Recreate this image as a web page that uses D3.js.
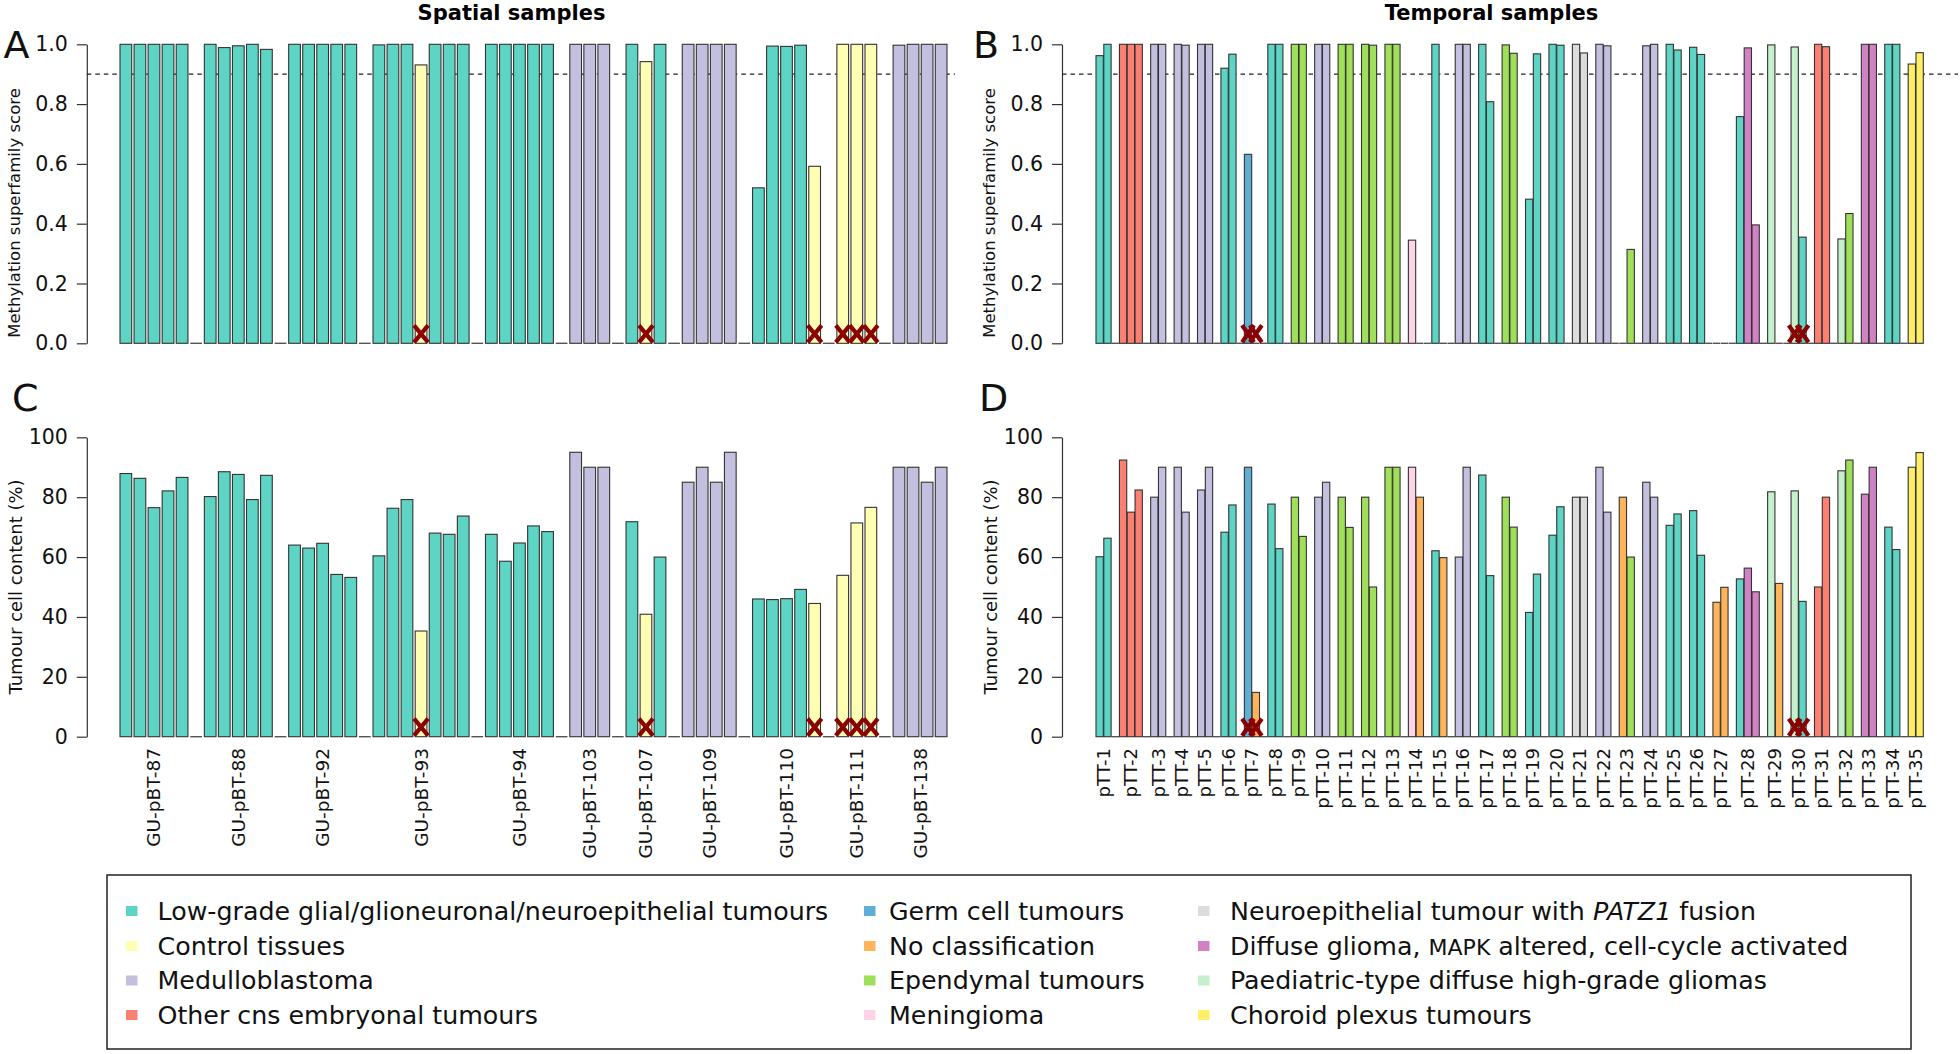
<!DOCTYPE html>
<html><head><meta charset="utf-8">
<script src="https://cdn.jsdelivr.net/npm/d3@7"></script>
<style>body{margin:0;background:#fff}svg{display:block}text{font-family:"DejaVu Sans",sans-serif}</style>
</head><body>
<svg id="chart" width="1960" height="1054"></svg>
<script>
// ---------- data ----------
const classNames = [
  "Low-grade glial/glioneuronal/neuroepithelial tumours",
  "Control tissues",
  "Medulloblastoma",
  "Other cns embryonal tumours",
  "Germ cell tumours",
  "No classification",
  "Ependymal tumours",
  "Meningioma",
  "Neuroepithelial tumour with PATZ1 fusion",
  "Diffuse glioma, MAPK altered, cell-cycle activated",
  "Paediatric-type diffuse high-grade gliomas",
  "Choroid plexus tumours"
];
const classColors = ["#5ed4c5","#ffffb3","#c3bfdf","#fb8072","#5eaed5","#ffb45a",
                     "#a0df5a","#fdd3e8","#dcdcdc","#d182c5","#c6efcb","#ffee66"];

const spatialPatients = ["GU-pBT-87","GU-pBT-88","GU-pBT-92","GU-pBT-93","GU-pBT-94","GU-pBT-103",
                         "GU-pBT-107","GU-pBT-109","GU-pBT-110","GU-pBT-111","GU-pBT-138"];
const spatialClass = [
  [0,0,0,0,0],[0,0,0,0,0],[0,0,0,0,0],[0,0,0,1,0,0,0],[0,0,0,0,0],[2,2,2],
  [0,1,0],[2,2,2,2],[0,0,0,0,1],[1,1,1],[2,2,2,2]];
const spatialScore = [
  [1,1,1,1,1],[1,0.989,0.995,1,0.983],[1,1,1,1,1],[0.998,1,1,0.931,1,1,1],[1,1,1,1,1],[1,1,1],
  [1,0.942,1],[1,1,1,1],[0.52,0.994,0.993,0.997,0.592],[1,1,1],[0.997,1,1,1]];
const spatialTumour = [
  [87.9,86.3,76.5,82.1,86.6],[80.2,88.5,87.6,79.2,87.3],[64.0,63.0,64.6,54.2,53.2],
  [60.4,76.3,79.2,35.3,68.0,67.6,73.7],[67.6,58.6,64.7,70.4,68.5],[95,90,90],
  [71.8,40.9,60],[85,90,85,95],[46,45.8,46.1,49.2,44.5],[53.9,71.4,76.6],[90,90,85,90]];
const spatialFlag = [
  [0,0,0,0,0],[0,0,0,0,0],[0,0,0,0,0],[0,0,0,1,0,0,0],[0,0,0,0,0],[0,0,0],
  [0,1,0],[0,0,0,0],[0,0,0,0,1],[1,1,1],[0,0,0,0]];

const temporalPatients = d3.range(1, 36).map(i => "pTT-" + i);
const temporalClass = [
  [0,0],[3,3,3],[2,2],[2,2],[2,2],[0,0],[4,5],[0,0],[6,6],[2,2],
  [6,6],[6,6],[6,6],[7,5],[0,5],[2,2],[0,0],[6,6],[0,0],[0,0],
  [8,8],[2,2],[5,6],[2,2],[0,0],[0,0],[5,5],[0,9,9],[10,5],[10,0],
  [3,3],[10,6],[9,9],[0,0],[11,11]];
const temporalScore = [
  [0.962,1],[1,1,1],[1,1],[1,0.997],[1,1],[0.92,0.967],[0.632,0],[1,1],[1,1],[1,1],
  [1,1],[1,0.997],[1,1],[0.345,0],[1,0],[1,1],[1,0.808],[0.998,0.97],[0.482,0.968],[1,0.997],
  [1,0.971],[1,0.995],[0,0.314],[0.995,1],[1,0.981],[0.99,0.966],[0,0],[0.758,0.988,0.396],[0.998,0],[0.991,0.355],
  [1,0.992],[0.349,0.434],[1,1],[1,1],[0.934,0.972]];
const temporalTumour = [
  [60.1,66.3],[92.4,75,82.4],[80,90],[90,75],[82.4,90],[68.3,77.4],[90,14.8],[77.7,62.8],[80,66.9],[80,85],
  [80,69.9],[80,50],[90,90],[90,80],[62.1,59.8],[60,90],[87.4,53.8],[80,70],[41.5,54.3],[67.3,76.8],
  [80,80],[90,75],[80,60],[85,80],[70.6,74.4],[75.5,60.6],[44.9,49.9],[52.7,56.3,48.4],[81.8,51.2],[82.1,45.2],
  [50,80],[88.8,92.4],[81,90],[70,62.5],[90,94.9]];
const temporalFlag = [
  [0,0],[0,0,0],[0,0],[0,0],[0,0],[0,0],[1,1],[0,0],[0,0],[0,0],
  [0,0],[0,0],[0,0],[0,0],[0,0],[0,0],[0,0],[0,0],[0,0],[0,0],
  [0,0],[0,0],[0,0],[0,0],[0,0],[0,0],[0,0],[0,0,0],[0,0],[1,1],
  [0,0],[0,0],[0,0],[0,0],[0,0]];

const scoreTicks = [0, 0.2, 0.4, 0.6, 0.8, 1.0];
const tumourTicks = [0, 20, 40, 60, 80, 100];
const scoreThreshold = 0.9;
const titles = ["Spatial samples", "Temporal samples"];
const panelLetters = ["A", "B", "C", "D"];
const yTitles = ["Methylation superfamily score", "Tumour cell content (%)"];

// ---------- helpers ----------
const svg = d3.select("#chart");
const FONT = "DejaVu Sans";

function buildSlots(patients, cls, score, tumour, flag) {
  const slots = [];
  patients.forEach((p, i) => {
    if (i > 0) slots.push({sep: true, id: "sep" + i});
    cls[i].forEach((c, j) => slots.push({
      sep: false, id: p + "_" + j, patient: i, cls: c,
      score: score[i][j], tumour: tumour[i][j], flag: flag[i][j]
    }));
  });
  return slots;
}

const spatialSlots = buildSlots(spatialPatients, spatialClass, spatialScore, spatialTumour, spatialFlag);
const temporalSlots = buildSlots(temporalPatients, temporalClass, temporalScore, temporalTumour, temporalFlag);

function drawPanel(cfg) {
  const x = d3.scaleBand().domain(cfg.slots.map(d => d.id))
    .range(cfg.xRange).paddingInner(cfg.pad).paddingOuter(0);
  const y = d3.scaleLinear().domain(cfg.domain).range(cfg.yRange);
  const g = svg.append("g");
  const bw = x.bandwidth();
  const y0 = y(0);

  // y axis
  const ax = g.append("g").attr("transform", `translate(${cfg.axisX},0)`)
    .call(d3.axisLeft(y).tickValues(cfg.ticks).tickFormat(cfg.fmt)
      .tickSize(10).tickSizeOuter(0).tickPadding(9));
  ax.select(".domain").attr("stroke", "#333").attr("stroke-width", 1.2);
  ax.selectAll(".tick line").attr("stroke", "#333").attr("stroke-width", 1.2);
  ax.selectAll("text").attr("font-size", 20.5).attr("font-family", FONT).attr("fill", "#111");

  // y title
  g.append("text")
    .attr("transform", `translate(${cfg.titleX},${cfg.titleY}) rotate(-90)`)
    .attr("text-anchor", "middle").attr("dy", "0.35em")
    .attr("font-size", cfg.titleSize).attr("fill", "#111")
    .text(cfg.yTitle);

  // threshold
  if (cfg.threshold != null) {
    g.append("line")
      .attr("x1", cfg.axisX).attr("x2", cfg.dashEnd)
      .attr("y1", y(cfg.threshold)).attr("y2", y(cfg.threshold))
      .attr("stroke", "#222").attr("stroke-width", 1.2).attr("stroke-dasharray", "4.5,4");
  }

  // zero-height bars (separators and zero values)
  g.selectAll("line.zero").data(cfg.slots.filter(d => d.sep || d[cfg.key] === 0))
    .join("line").attr("class", "zero")
    .attr("x1", d => x(d.id)).attr("x2", d => x(d.id) + bw)
    .attr("y1", y0).attr("y2", y0)
    .attr("stroke", "#555").attr("stroke-width", 1.4);

  // bars
  g.selectAll("rect.bar").data(cfg.slots.filter(d => !d.sep && d[cfg.key] > 0))
    .join("rect").attr("class", "bar")
    .attr("x", d => x(d.id)).attr("width", bw)
    .attr("y", d => y(d[cfg.key])).attr("height", d => y0 - y(d[cfg.key]))
    .attr("fill", d => classColors[d.cls])
    .attr("stroke", "#333").attr("stroke-width", 1.1);

  // flags
  const xw = cfg.xMarkW, xh = 17;
  g.selectAll("path.flag").data(cfg.slots.filter(d => !d.sep && d.flag))
    .join("path").attr("class", "flag")
    .attr("d", d => {
      const cx = x(d.id) + bw / 2, top = y0 - xh - 1, bot = y0 - 1;
      return `M${cx - xw/2},${top}L${cx + xw/2},${bot}M${cx + xw/2},${top}L${cx - xw/2},${bot}`;
    })
    .attr("stroke", "#8b0000").attr("stroke-width", 4.2).attr("fill", "none");

  return {x, y, g, bw};
}

function drawLabels(panel, slots, patients, labelY, size) {
  const centers = patients.map((p, i) => {
    const ids = slots.filter(d => !d.sep && d.patient === i).map(d => d.id);
    return (panel.x(ids[0]) + panel.x(ids[ids.length - 1]) + panel.bw) / 2;
  });
  panel.g.selectAll("text.xlab").data(patients).join("text").attr("class", "xlab")
    .attr("transform", (d, i) => `translate(${centers[i]},${labelY}) rotate(-90)`)
    .attr("text-anchor", "end").attr("dy", "0.35em")
    .attr("font-size", size).attr("fill", "#111")
    .text(d => d);
}

// ---------- panels ----------
const A = drawPanel({slots: spatialSlots, xRange: [120, 947], pad: 1/6, domain: [0, 1], yRange: [343.3, 44.3],
  axisX: 86.8, ticks: scoreTicks, fmt: d3.format(".1f"), key: "score", threshold: scoreThreshold, dashEnd: 955,
  xMarkW: 14, yTitle: yTitles[0], titleX: 14, titleY: 213, titleSize: 16.5});
const B = drawPanel({slots: temporalSlots, xRange: [1096, 1923.3], pad: 0.065, domain: [0, 1], yRange: [343.3, 44.3],
  axisX: 1062, ticks: scoreTicks, fmt: d3.format(".1f"), key: "score", threshold: scoreThreshold, dashEnd: 1958,
  xMarkW: 12, yTitle: yTitles[0], titleX: 989, titleY: 213, titleSize: 16.5});
const C = drawPanel({slots: spatialSlots, xRange: [120, 947], pad: 1/6, domain: [0, 100], yRange: [736.7, 437.3],
  axisX: 86.8, ticks: tumourTicks, fmt: d3.format("d"), key: "tumour", threshold: null,
  xMarkW: 14, yTitle: yTitles[1], titleX: 15.7, titleY: 587, titleSize: 18});
const D = drawPanel({slots: temporalSlots, xRange: [1096, 1923.3], pad: 0.065, domain: [0, 100], yRange: [736.7, 437.3],
  axisX: 1062, ticks: tumourTicks, fmt: d3.format("d"), key: "tumour", threshold: null,
  xMarkW: 12, yTitle: yTitles[1], titleX: 991, titleY: 587, titleSize: 18});

drawLabels(C, spatialSlots, spatialPatients, 748, 18.5);
drawLabels(D, temporalSlots, temporalPatients, 748, 18);

// titles and letters
svg.append("text").attr("x", 511.5).attr("y", 20).attr("text-anchor", "middle")
  .attr("font-size", 21).attr("font-weight", "bold").text(titles[0]);
svg.append("text").attr("x", 1491.5).attr("y", 20).attr("text-anchor", "middle")
  .attr("font-size", 21).attr("font-weight", "bold").text(titles[1]);
const letterPos = [[3.6, 58], [973, 58], [12, 411], [979, 411]];
panelLetters.forEach((l, i) => svg.append("text").attr("x", letterPos[i][0]).attr("y", letterPos[i][1])
  .attr("font-size", 38).attr("fill", "#111").text(l));

// ---------- legend ----------
const lg = svg.append("g");
lg.append("rect").attr("x", 107).attr("y", 875).attr("width", 1804).attr("height", 174)
  .attr("fill", "none").attr("stroke", "#222").attr("stroke-width", 1.5);
const colSwatchX = [126, 864, 1198];
const colTextX = [157.5, 889, 1230];
const rowY = [911, 946, 980.5, 1015];
classNames.forEach((name, i) => {
  const col = Math.floor(i / 4), row = i % 4;
  lg.append("rect").attr("x", colSwatchX[col]).attr("y", rowY[row] - 5)
    .attr("width", 11.5).attr("height", 10).attr("fill", classColors[i]);
  const t = lg.append("text").attr("x", colTextX[col]).attr("y", rowY[row]).attr("dy", "0.35em")
    .attr("font-size", 25.3).attr("fill", "#111");
  if (name.includes("PATZ1")) {
    const [a, b] = name.split("PATZ1");
    t.append("tspan").text(a);
    t.append("tspan").attr("font-style", "italic").text("PATZ1");
    t.append("tspan").text(b);
  } else if (name.includes("MAPK")) {
    const [a, b] = name.split("MAPK");
    t.append("tspan").text(a);
    t.append("tspan").attr("font-size", 22).text("MAPK");
    t.append("tspan").text(b);
  } else {
    t.text(name);
  }
});
</script>
</body></html>
